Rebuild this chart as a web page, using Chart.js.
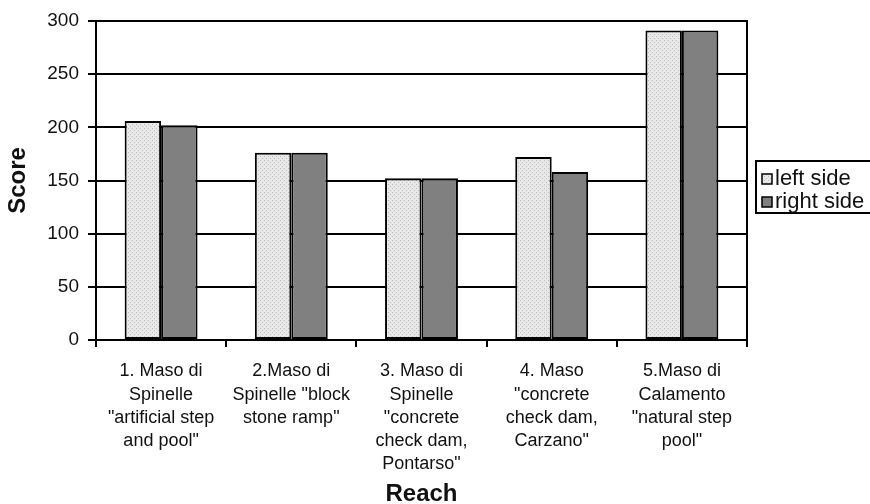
<!DOCTYPE html>
<html>
<head>
<meta charset="utf-8">
<script src="https://cdn.jsdelivr.net/npm/chart.js@4.4.1/dist/chart.umd.min.js"></script>
<style>
  html, body { margin: 0; padding: 0; background: #fff; }
  #wrap { width: 870px; height: 504px; position: relative; }
</style>
</head>
<body>
<div id="wrap"><canvas id="graph" width="870" height="504"></canvas></div>
<script>
// data
const reaches = [
    ["1. Maso di", "Spinelle", "\"artificial step", "and pool\""],
    ["2.Maso di", "Spinelle \"block", "stone ramp\""],
    ["3. Maso di", "Spinelle", "\"concrete", "check dam,", "Pontarso\""],
    ["4. Maso", "\"concrete", "check dam,", "Carzano\""],
    ["5.Maso di", "Calamento", "\"natural step", "pool\""]
];
const leftSide = [206, 176, 152, 172, 291];
const rightSide = [202, 176, 152, 158, 291];
const yTicks = [0, 50, 100, 150, 200, 250, 300];

const font = "'Liberation Sans', Arial, sans-serif";

//stippled light grey fill for the left side bars
const makeDots = () => {
    const c = document.createElement("canvas");
    c.width = 4;
    c.height = 4;
    const g = c.getContext("2d");
    g.fillStyle = "#e8e8e8";
    g.fillRect(0, 0, 4, 4);
    g.fillStyle = "#bcbcbc";
    g.fillRect(0, 0, 1, 1);
    g.fillRect(2, 2, 1, 1);
    return g.createPattern(c, "repeat");
};
const dots = makeDots();

//legend drawn as a boxed list on the right
const boxLegend = {
    id: "boxLegend",
    afterDraw(chart) {
        const ctx = chart.ctx;
        const x0 = 756, y0 = 161, x1 = 872, y1 = 213;
        ctx.save();
        ctx.fillStyle = "#fff";
        ctx.fillRect(x0, y0, x1 - x0, y1 - y0);
        ctx.strokeStyle = "#000";
        ctx.lineWidth = 2;
        ctx.strokeRect(x0, y0, x1 - x0, y1 - y0);
        ctx.font = "22px " + font;
        ctx.textBaseline = "middle";
        chart.data.datasets.forEach((ds, i) => {
            const cy = 179 + i * 23;
            ctx.fillStyle = ds.backgroundColor;
            ctx.fillRect(762, cy - 5, 10, 10);
            ctx.lineWidth = 1.5;
            ctx.strokeRect(762, cy - 5, 10, 10);
            ctx.fillStyle = "#111";
            ctx.fillText(ds.label, 775, cy);
        });
        ctx.restore();
    }
};

//outer frame around the plot area
const frame = {
    id: "frame",
    afterDatasetsDraw(chart) {
        const a = chart.chartArea;
        const ctx = chart.ctx;
        ctx.save();
        ctx.strokeStyle = "#000";
        ctx.lineWidth = 2;
        ctx.strokeRect(a.left, a.top, a.right - a.left, a.bottom - a.top);
        ctx.restore();
    }
};

new Chart(document.getElementById("graph"), {
    type: "bar",
    data: {
        labels: reaches,
        datasets: [
            {
                label: "left side",
                data: leftSide,
                backgroundColor: dots,
                borderColor: "#000",
                borderWidth: 2,
                borderSkipped: false,
                categoryPercentage: 0.56,
                barPercentage: 1
            },
            {
                label: "right side",
                data: rightSide,
                backgroundColor: "#808080",
                borderColor: "#000",
                borderWidth: 2,
                borderSkipped: false,
                categoryPercentage: 0.56,
                barPercentage: 1
            }
        ]
    },
    options: {
        responsive: false,
        animation: false,
        layout: { padding: { top: 21, right: 123, left: 0, bottom: 0 } },
        plugins: {
            legend: { display: false },
            tooltip: { enabled: false }
        },
        scales: {
            x: {
                grid: {
                    display: true,
                    drawOnChartArea: false,
                    color: "#000",
                    lineWidth: 2,
                    tickLength: 7
                },
                border: { color: "#000", width: 2 },
                ticks: {
                    color: "#111",
                    maxRotation: 0,
                    autoSkip: false,
                    padding: 13,
                    font: { family: font, size: 18, lineHeight: 1.28 }
                },
                title: {
                    display: true,
                    text: "Reach",
                    color: "#111",
                    padding: { top: 0, bottom: 0 },
                    font: { family: font, size: 24, weight: "bold", lineHeight: 0.8 }
                },
                afterFit: (scale) => { scale.height = 164; }
            },
            y: {
                min: 0,
                max: 300,
                afterBuildTicks: (scale) => {
                    scale.ticks = yTicks.map(v => ({ value: v }));
                },
                grid: {
                    color: "#000",
                    lineWidth: 2,
                    tickLength: 8
                },
                border: { color: "#000", width: 2 },
                ticks: {
                    color: "#111",
                    padding: 9,
                    font: { family: font, size: 19 }
                },
                title: {
                    display: true,
                    text: "Score",
                    color: "#111",
                    padding: { top: 4, bottom: 0 },
                    font: { family: font, size: 24, weight: "bold", lineHeight: 1.2 }
                },
                afterFit: (scale) => { scale.width = 96; }
            }
        }
    },
    plugins: [frame, boxLegend]
});
</script>
</body>
</html>
